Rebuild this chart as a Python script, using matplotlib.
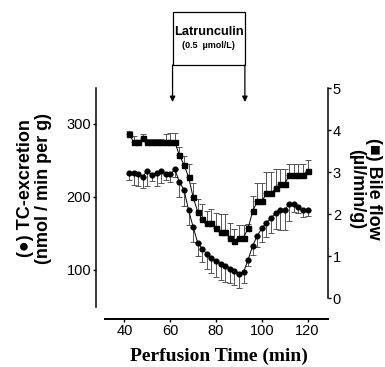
import numpy as np
import matplotlib
matplotlib.use("Agg")
import matplotlib.pyplot as plt
from matplotlib.patches import Rectangle

plt.rcParams['font.family'] = ['Liberation Sans', 'DejaVu Sans']

# Perfusion time (min)
time = [42, 44, 46, 48, 50, 52, 54, 56, 58, 60,
        62, 64, 66, 68, 70, 72, 74, 76, 78, 80,
        82, 84, 86, 88, 90, 92, 94, 96, 98, 100,
        102, 104, 106, 108, 110, 112, 114, 116, 118, 120]

# TC-excretion (nmol / min per g), mean and SEM
tc_excretion = [233, 233, 231, 228, 236, 230, 233, 236, 231, 231,
                238, 220, 210, 182, 159, 137, 129, 122, 116, 112,
                108, 106, 102, 99, 94, 97, 114, 133, 147, 157,
                165, 171, 178, 182, 182, 191, 190, 186, 182, 182]
tc_err = [10, 17, 16, 16, 21, 8, 18, 17, 8, 10,
          10, 20, 22, 20, 20, 18, 18, 20, 20, 22,
          22, 22, 20, 20, 18, 15, 8, 12, 15, 18,
          20, 20, 22, 27, 27, 24, 10, 8, 10, 8]

# Bile flow (ul/min/g), mean and SEM
bile_flow = [3.91, 3.71, 3.71, 3.80, 3.71, 3.71, 3.71, 3.71, 3.71, 3.71,
             3.71, 3.40, 3.17, 2.88, 2.40, 2.05, 1.88, 1.78, 1.78, 1.67,
             1.56, 1.56, 1.44, 1.35, 1.44, 1.44, 1.66, 2.07, 2.30, 2.30,
             2.49, 2.49, 2.61, 2.71, 2.71, 2.93, 2.93, 2.93, 2.93, 3.03]
bile_err = [0.07, 0.15, 0.05, 0.1, 0.08, 0.08, 0.08, 0.08, 0.2, 0.22,
            0.22, 0.2, 0.2, 0.3, 0.35, 0.3, 0.35, 0.3, 0.35, 0.35,
            0.45, 0.45, 0.35, 0.3, 0.3, 0.3, 0.1, 0.35, 0.45, 0.45,
            0.5, 0.5, 0.45, 0.35, 0.35, 0.25, 0.25, 0.25, 0.25, 0.25]

# Latrunculin infusion window (min)
infusion = [61, 92.6]

W, H = 385, 367
AX_L, AX_R, AX_T, AX_B = 105, 328, 88, 307


def frac_y(py):
    """ pixel row -> axes fraction of the main axes """
    return (AX_B - py) / (AX_B - AX_T)


fig = plt.figure(figsize=(W / 100, H / 100), dpi=100)
ax = fig.add_axes([AX_L / W, 1 - AX_B / H, (AX_R - AX_L) / W, (AX_B - AX_T) / H])
ax2 = ax.twinx()

zeros = np.zeros(len(time))
err_kw = dict(color='black', ecolor='#555555', elinewidth=0.7,
              capsize=2.2, capthick=0.7, lw=0.7)

# TC-excretion, lower error bars only
ax.errorbar(time, tc_excretion, yerr=[tc_err, zeros], fmt='-o', ms=3.4, **err_kw)
# Bile flow, upper error bars only
ax2.errorbar(time, bile_flow, yerr=[zeros, bile_err], fmt='-s', ms=3.6, **err_kw)

ax.set_xlim(31.5, 128.9)
ax.set_ylim(49.3, 349.3)
ax2.set_ylim(-0.214, 5.0)
ax.set_xticks([40, 60, 80, 100, 120])
ax.set_yticks([100, 200, 300])
ax2.set_yticks([0, 1, 2, 3, 4, 5])

for s in ['top', 'right']:
    ax.spines[s].set_visible(False)
for s in ['top', 'left', 'bottom']:
    ax2.spines[s].set_visible(False)
ax.spines['left'].set_position(('outward', 6.5))
ax.spines['bottom'].set_position(('outward', 8.6))
ax.spines['left'].set_linewidth(1.1)
ax.spines['bottom'].set_linewidth(1.4)
ax2.spines['right'].set_linewidth(1.1)
ax2.spines['right'].set_bounds(0, 5)

ax.tick_params(direction='out', length=2.5, width=1, labelsize=10.5, pad=1)
ax2.tick_params(direction='out', length=2.5, width=1, labelsize=10.5, pad=1)

# Axis titles
fig.text(34.5 / W, 1 - 188 / H, '(●) TC-excretion\n(nmol / min per g)',
         rotation=90, ha='center', va='center', fontsize=13, fontweight='bold',
         linespacing=1.05, multialignment='center')
fig.text(365 / W, 1 - 189 / H, '(■) Bile flow\n(µl/min/g)',
         rotation=270, ha='center', va='center', fontsize=13, fontweight='bold',
         linespacing=1.05, multialignment='center')
fig.text(218.5 / W, 1 - 356 / H, 'Perfusion Time (min)', ha='center', va='center',
         family='Liberation Serif', fontsize=14, fontweight='bold')

# Latrunculin box with arrows
trans = ax.get_xaxis_transform()
ax.add_patch(Rectangle((infusion[0], frac_y(65)), infusion[1] - infusion[0],
                       frac_y(12) - frac_y(65), transform=trans, fill=False,
                       lw=0.9, ec='black', clip_on=False))
for x in infusion:
    ax.annotate('', xy=(x, frac_y(102)), xytext=(x, frac_y(65)),
                xycoords=trans, textcoords=trans,
                arrowprops=dict(arrowstyle='-|>', lw=0.9, color='black',
                                mutation_scale=8, shrinkA=0, shrinkB=0))
mid = (infusion[0] + infusion[1]) / 2
ax.text(mid, frac_y(32), 'Latrunculin', transform=trans, ha='center', va='center',
        fontsize=9.3, fontweight='bold')
ax.text(mid, frac_y(45), '(0.5  µmol/L)', transform=trans, ha='center', va='center',
        fontsize=6.5, fontweight='bold')

fig.savefig('out.png', dpi=100)
